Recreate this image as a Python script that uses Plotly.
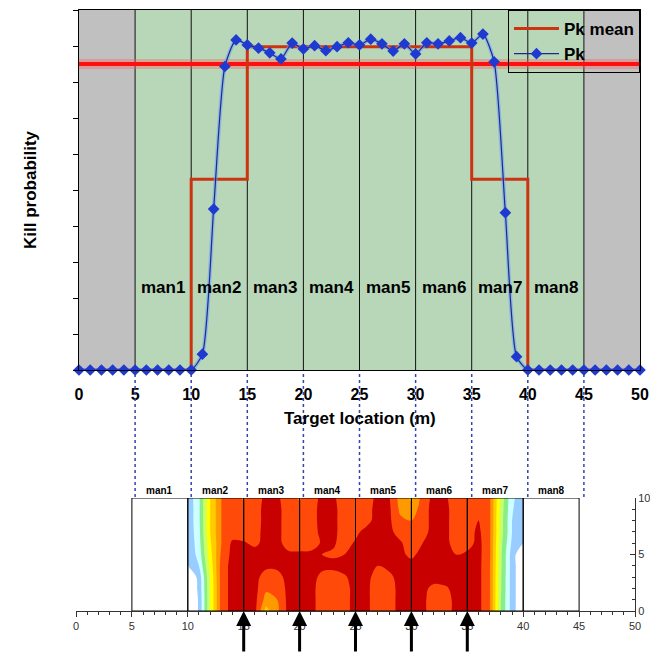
import plotly.graph_objects as go

# ---------------- Top chart data ----------------
pk_x = [0, 1, 2, 3, 4, 5, 6, 7, 8, 9, 10, 11, 12, 13, 14, 15, 16, 17, 18, 19, 20,
        21, 22, 23, 24, 25, 26, 27, 28, 29, 30, 31, 32, 33, 34, 35, 36, 37, 38, 39, 40,
        41, 42, 43, 44, 45, 46, 47, 48, 49, 50]
pk_vals = [0, 0, 0, 0, 0, 0, 0, 0, 0, 0, 0,
           0.044, 0.447, 0.843, 0.917, 0.903, 0.894, 0.881, 0.864, 0.908, 0.892,
           0.901, 0.887, 0.898, 0.909, 0.903, 0.919, 0.906, 0.886, 0.906, 0.878,
           0.909, 0.906, 0.914, 0.923, 0.908, 0.933, 0.856, 0.437, 0.037,
           0, 0, 0, 0, 0, 0, 0, 0, 0, 0, 0]

zone_names = ["man1", "man2", "man3", "man4", "man5", "man6", "man7", "man8"]
zone_starts = [5, 10, 15, 20, 25, 30, 35, 40]
zone_ends = [10, 15, 20, 25, 30, 35, 40, 45]
zone_means = [0, 0.53, 0.898, 0.898, 0.898, 0.898, 0.53, 0]
overall_mean = 0.85

x_ticks = [0, 5, 10, 15, 20, 25, 30, 35, 40, 45, 50]

# ---------------- Bottom contour data ----------------
cx = [10, 11, 12, 13, 14, 15, 16, 17, 18, 19, 20, 21, 22, 23, 24, 25,
      26, 27, 28, 29, 30, 31, 32, 33, 34, 35, 36, 37, 38, 39, 40]
cy = [0, 1, 2, 3, 4, 5, 6, 7, 8, 9, 10]
z_y0 = [0.00, 0.11, 0.50, 0.84, 0.94, 0.94, 0.93, 0.66, 0.78, 0.93, 0.94, 0.93, 0.86, 0.85, 0.87, 0.93,
        0.92, 0.85, 0.86, 0.93, 0.94, 0.92, 0.86, 0.87, 0.92, 0.94, 0.93, 0.81, 0.40, 0.15, 0.00]
z_y1 = [0.00, 0.11, 0.50, 0.84, 0.94, 0.94, 0.93, 0.76, 0.80, 0.93, 0.94, 0.93, 0.86, 0.85, 0.87, 0.93,
        0.92, 0.85, 0.86, 0.93, 0.94, 0.92, 0.86, 0.87, 0.92, 0.94, 0.93, 0.81, 0.40, 0.15, 0.00]
z_y2 = [0.00, 0.12, 0.50, 0.84, 0.94, 0.94, 0.93, 0.82, 0.83, 0.93, 0.94, 0.93, 0.86, 0.85, 0.87, 0.93,
        0.92, 0.85, 0.86, 0.93, 0.94, 0.92, 0.88, 0.89, 0.92, 0.94, 0.93, 0.81, 0.41, 0.15, 0.00]
z_y3 = [0.00, 0.13, 0.51, 0.84, 0.94, 0.94, 0.93, 0.86, 0.87, 0.93, 0.94, 0.93, 0.88, 0.87, 0.89, 0.93,
        0.92, 0.87, 0.88, 0.93, 0.94, 0.92, 0.93, 0.93, 0.92, 0.94, 0.93, 0.81, 0.41, 0.15, 0.00]
z_y4 = [0.095, 0.20, 0.53, 0.84, 0.94, 0.94, 0.93, 0.92, 0.92, 0.93, 0.94, 0.93, 0.92, 0.92, 0.93, 0.93,
        0.93, 0.90, 0.92, 0.94, 0.93, 0.94, 0.94, 0.94, 0.93, 0.94, 0.93, 0.81, 0.42, 0.15, 0.00]
z_y5 = [0.11, 0.24, 0.56, 0.82, 0.93, 0.94, 0.94, 0.93, 0.93, 0.92, 0.92, 0.92, 0.90, 0.89, 0.90, 0.93,
        0.94, 0.94, 0.93, 0.92, 0.88, 0.93, 0.94, 0.93, 0.90, 0.92, 0.93, 0.82, 0.42, 0.15, 0.00]
z_y6 = [0.11, 0.26, 0.58, 0.80, 0.92, 0.91, 0.88, 0.93, 0.93, 0.86, 0.85, 0.86, 0.91, 0.91, 0.87, 0.91,
        0.93, 0.94, 0.93, 0.91, 0.86, 0.90, 0.94, 0.93, 0.86, 0.86, 0.93, 0.82, 0.43, 0.18, 0.10]
z_y7 = [0.12, 0.27, 0.60, 0.80, 0.85, 0.85, 0.86, 0.94, 0.93, 0.85, 0.84, 0.85, 0.93, 0.93, 0.85, 0.88,
        0.93, 0.94, 0.92, 0.87, 0.84, 0.86, 0.94, 0.93, 0.85, 0.86, 0.92, 0.82, 0.45, 0.20, 0.13]
z_y8 = [0.12, 0.28, 0.60, 0.80, 0.85, 0.84, 0.85, 0.94, 0.93, 0.85, 0.84, 0.85, 0.94, 0.93, 0.85, 0.84,
        0.87, 0.94, 0.92, 0.82, 0.80, 0.85, 0.94, 0.93, 0.85, 0.85, 0.90, 0.82, 0.45, 0.20, 0.13]
z_y9 = [0.12, 0.28, 0.60, 0.80, 0.85, 0.83, 0.85, 0.94, 0.93, 0.85, 0.83, 0.85, 0.94, 0.93, 0.85, 0.84,
        0.86, 0.94, 0.92, 0.78, 0.74, 0.85, 0.94, 0.93, 0.85, 0.85, 0.86, 0.82, 0.46, 0.21, 0.13]
z_y10 = [0.13, 0.28, 0.60, 0.80, 0.84, 0.79, 0.84, 0.93, 0.92, 0.84, 0.79, 0.84, 0.93, 0.92, 0.84, 0.84,
         0.85, 0.93, 0.91, 0.76, 0.68, 0.84, 0.93, 0.92, 0.84, 0.84, 0.85, 0.82, 0.47, 0.22, 0.14]
z_grid = [z_y0, z_y1, z_y2, z_y3, z_y4, z_y5, z_y6, z_y7, z_y8, z_y9, z_y10]

band_colors = ["#FFFFFF", "#99CCFF", "#CCFFFF", "#88EE88", "#CCFF66",
               "#FFFF00", "#FFCC00", "#FF9900", "#FF4A0A", "#C80000"]
arrow_x = [15, 20, 25, 30, 35]

FONT = "Arial, Liberation Sans, sans-serif"

# ---------------- Geometry (paper fractions) ----------------
# Page body margin is removed by post_script, so window pixel == figure pixel.
W, H = 650, 653
def px_x(p):
    return p / W
def px_y(p):
    return (H - p) / H

fig = go.Figure()

# overall mean line (glow + core)
fig.add_trace(go.Scatter(x=[0, 50], y=[overall_mean, overall_mean], mode="lines",
                         line=dict(color="rgba(255,90,90,0.35)", width=10),
                         showlegend=False, hoverinfo="skip", xaxis="x", yaxis="y"))
fig.add_trace(go.Scatter(x=[0, 50], y=[overall_mean, overall_mean], mode="lines",
                         line=dict(color="#FF1010", width=4),
                         showlegend=False, hoverinfo="skip", xaxis="x", yaxis="y"))

# zone mean step line
step_x = [0] + zone_starts + [45, 50]
step_y = [0] + zone_means + [0, 0]
fig.add_trace(go.Scatter(x=step_x, y=step_y, mode="lines", name="Pk mean",
                         line=dict(color="#CC3311", width=3, shape="hv"),
                         xaxis="x", yaxis="y"))

# Pk glow + line
fig.add_trace(go.Scatter(x=pk_x, y=pk_vals, mode="lines",
                         line=dict(color="rgba(110,160,255,0.55)", width=4, shape="spline", smoothing=0.6),
                         showlegend=False, hoverinfo="skip", xaxis="x", yaxis="y"))
fig.add_trace(go.Scatter(x=pk_x, y=pk_vals, mode="lines+markers", name="Pk",
                         line=dict(color="#1c2a8c", width=1.2, shape="spline", smoothing=0.6),
                         marker=dict(symbol="diamond", size=9, color="#1f3ad0"),
                         cliponaxis=False, xaxis="x", yaxis="y"))

# contour
ncol = len(band_colors)
cscale = []
for k, c in enumerate(band_colors):
    lo = max(0.0, (k - 0.5) / (ncol - 1))
    hi = min(1.0, (k + 0.5) / (ncol - 1))
    cscale.append([lo, c])
    cscale.append([hi, c])
fig.add_trace(go.Contour(x=cx, y=cy, z=z_grid, xaxis="x2", yaxis="y2",
                         colorscale=cscale, showscale=False,
                         contours=dict(start=0.1, end=0.9, size=0.1, coloring="fill", showlines=False),
                         line=dict(width=0), hoverinfo="skip"))

shapes = []
# backgrounds top
shapes.append(dict(type="rect", xref="x", yref="y", x0=0, x1=5, y0=0, y1=1,
                   fillcolor="#C0C0C0", line=dict(width=0), layer="below"))
shapes.append(dict(type="rect", xref="x", yref="y", x0=5, x1=45, y0=0, y1=1,
                   fillcolor="#B8D6B8", line=dict(width=0), layer="below"))
shapes.append(dict(type="rect", xref="x", yref="y", x0=45, x1=50, y0=0, y1=1,
                   fillcolor="#C0C0C0", line=dict(width=0), layer="below"))
for xv in [5] + zone_ends:
    shapes.append(dict(type="line", xref="x", yref="y", x0=xv, x1=xv, y0=0, y1=1,
                       line=dict(color="#111111", width=1), layer="below"))
# dotted connectors
for xv in [5] + zone_ends:
    shapes.append(dict(type="line", xref="x", yref="paper", x0=xv, x1=xv,
                       y0=px_y(497), y1=px_y(373),
                       line=dict(color="#3344AA", width=1.5, dash="dot")))
# bottom zone boxes
for a, b in zip(zone_starts, zone_ends):
    shapes.append(dict(type="rect", xref="x2", yref="y2", x0=a, x1=b, y0=0, y1=10,
                       line=dict(color="black", width=1), fillcolor="rgba(0,0,0,0)"))

annotations = []
annotations.append(dict(text="Kill probability", xref="paper", yref="paper",
                        x=px_x(30), y=px_y(190), xanchor="center", yanchor="middle",
                        textangle=-90, showarrow=False,
                        font=dict(family=FONT, size=17, color="black", weight="bold")))
annotations.append(dict(text="Target location (m)", xref="paper", yref="paper",
                        x=px_x(360), y=px_y(418), xanchor="center", yanchor="middle",
                        showarrow=False,
                        font=dict(family=FONT, size=17, color="black", weight="bold")))
for nm, a, b in zip(zone_names, zone_starts, zone_ends):
    annotations.append(dict(text=nm, xref="x", yref="y", x=(a + b) / 2, y=0.23,
                            xanchor="center", yanchor="middle", showarrow=False,
                            font=dict(family=FONT, size=17, color="black", weight="bold")))
    annotations.append(dict(text=nm, xref="x2", yref="paper", x=(a + b) / 2, y=px_y(490),
                            xanchor="center", yanchor="middle", showarrow=False,
                            font=dict(family=FONT, size=10, color="black", weight="bold")))
for xv in arrow_x:
    annotations.append(dict(text="", xref="x2", yref="y2", x=xv, y=0, ax=0, ay=48,
                            showarrow=True, arrowhead=2, arrowsize=1, arrowwidth=3,
                            arrowcolor="black"))

fig.update_layout(
    template="none",
    width=W, height=H, autosize=False,
    margin=dict(l=0, r=0, t=0, b=0, pad=0),
    paper_bgcolor="white", plot_bgcolor="white",
    font=dict(family=FONT, color="black"),
    xaxis=dict(domain=[px_x(79), px_x(640)], range=[0, 50], anchor="y", automargin=False,
               tickvals=x_ticks, ticks="", ticklabelstandoff=10,
               tickfont=dict(family=FONT, size=16, color="black", weight="bold"),
               showline=True, mirror=True, linecolor="black", linewidth=1,
               showgrid=False, zeroline=False),
    yaxis=dict(domain=[px_y(370), px_y(10)], range=[0, 1], anchor="x", automargin=False,
               dtick=0.1, ticks="outside", ticklen=5, tickcolor="black",
               showticklabels=False,
               showline=True, mirror=True, linecolor="black", linewidth=1,
               showgrid=False, zeroline=False),
    xaxis2=dict(domain=[px_x(76), px_x(635)], range=[0, 50], anchor="y2", automargin=False,
                tickvals=x_ticks, ticks="outside", ticklen=5, tickcolor="#333",
                minor=dict(dtick=1, ticks="outside", ticklen=3, tickcolor="#333"),
                tickfont=dict(family=FONT, size=11, color="#333"),
                showline=True, linecolor="#333", linewidth=1,
                showgrid=False, zeroline=False),
    yaxis2=dict(domain=[px_y(611), px_y(498)], range=[0, 10], anchor="x2", side="right",
                automargin=False,
                tickvals=[0, 5, 10], ticks="inside", ticklen=5, tickcolor="#333",
                minor=dict(dtick=1, ticks="inside", ticklen=3, tickcolor="#333"),
                tickfont=dict(family=FONT, size=11, color="#333"),
                showline=True, linecolor="#333", linewidth=1,
                showgrid=False, zeroline=False),
    legend=dict(x=px_x(640), y=px_y(10), xanchor="right", yanchor="top",
                bgcolor="rgba(0,0,0,0)", bordercolor="black", borderwidth=1,
                font=dict(family=FONT, size=17, color="black", weight="bold"),
                itemwidth=45, tracegroupgap=0),
    shapes=shapes, annotations=annotations,
)

fig.write_html("out.html",
               config={"displayModeBar": False},
               post_script="document.body.style.margin='0';document.body.style.overflow='hidden';")
